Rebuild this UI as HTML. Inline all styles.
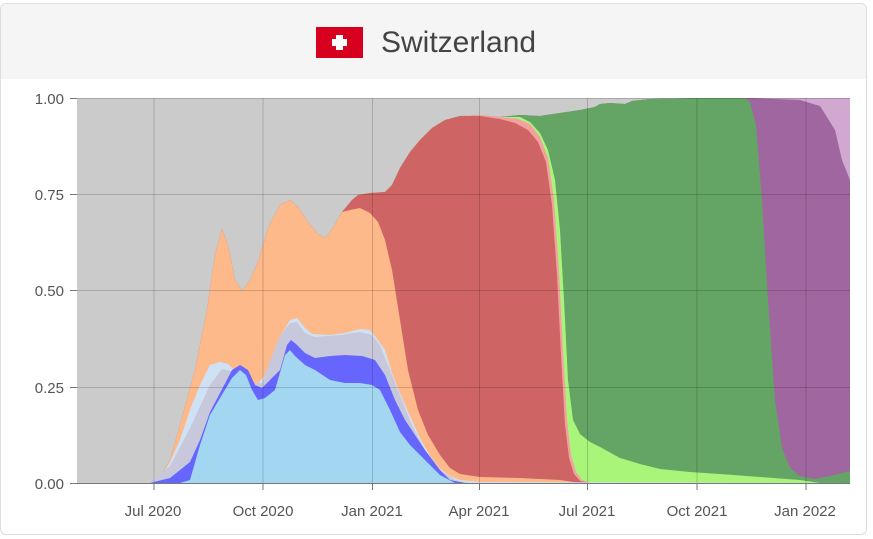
<!DOCTYPE html>
<html><head><meta charset="utf-8"><style>
body{margin:0;background:#fff;width:873px;height:539px;overflow:hidden;font-family:"Liberation Sans",sans-serif}
.card{position:absolute;left:0;top:3px;width:865px;height:530px;border:1px solid #ddd;border-radius:6px;background:#fff;overflow:hidden}
.hdr{position:absolute;left:0;top:0;width:100%;height:75px;background:#f5f5f5}
.title{position:absolute;left:381px;top:26px;font-size:30px;color:#444}
.flag{position:absolute;left:316px;top:27px;width:47px;height:31px;background:#d8001f}
</style></head><body>
<div class="card"><div class="hdr"></div></div>
<div class="flag"><div style="position:absolute;left:20px;top:8px;width:7px;height:15px;background:#fff"></div><div style="position:absolute;left:16px;top:12px;width:15px;height:7px;background:#fff"></div></div>
<div class="title">Switzerland</div>
<svg width="873" height="539" style="position:absolute;left:0;top:0">
<rect x="77" y="98" width="773" height="385" fill="#cbcbcb"/>
<polygon fill="#d0a8d0" points="77,483 150,483 160,478 170,460 180,425 195,370 207,310 215,255 222,229 228,245 235,280 242,291 250,280 258,262 268,228 280,205 290,200 298,207 310,225 318,234 325,238 333,228 342,212 352,200 358,195 370,193 385,192 392,185 400,168 410,152 420,140 432,128 445,120 460,116 480,115 500,117 520,115 540,116 560,113 580,110 595,107 600,104 610,103 625,104 632,101 650,99 700,98 850,98 850,483"/>
<polygon fill="#a066a0" points="77,483 150,483 160,478 170,460 180,425 195,370 207,310 215,255 222,229 228,245 235,280 242,291 250,280 258,262 268,228 280,205 290,200 298,207 310,225 318,234 325,238 333,228 342,212 352,200 358,195 370,193 385,192 392,185 400,168 410,152 420,140 432,128 445,120 460,116 480,115 500,117 520,115 540,116 560,113 580,110 595,107 600,104 610,103 625,104 632,101 650,99 700,98 750,98 800,100 820,106 835,130 842,160 850,180 850,483"/>
<polygon fill="#64a464" points="77,483 150,483 160,478 170,460 180,425 195,370 207,310 215,255 222,229 228,245 235,280 242,291 250,280 258,262 268,228 280,205 290,200 298,207 310,225 318,234 325,238 333,228 342,212 352,200 358,195 370,193 385,192 392,185 400,168 410,152 420,140 432,128 445,120 460,116 480,115 500,117 520,115 540,116 560,113 580,110 595,107 600,104 610,103 625,104 632,101 650,99 700,98 745,98 750,102 756,125 762,200 768,300 775,400 782,448 790,468 800,476 815,479 830,476 850,471 850,483"/>
<polygon fill="#a8f57a" points="77,483 150,483 160,478 170,460 180,425 195,370 207,310 215,255 222,229 228,245 235,280 242,291 250,280 258,262 268,228 280,205 290,200 298,207 310,225 318,234 325,238 333,228 342,212 352,200 358,195 370,193 385,192 392,185 400,168 410,152 420,140 432,128 445,120 460,116 480,115 500,117 520,117 530,122 540,133 548,150 555,180 560,230 564,300 568,380 573,420 580,434 590,442 600,447 620,458 640,464 660,469 690,472 720,474 760,477 800,480 820,483"/>
<polygon fill="#f4a0a0" points="77,483 150,483 160,478 170,460 180,425 195,370 207,310 215,255 222,229 228,245 235,280 242,291 250,280 258,262 268,228 280,205 290,200 298,207 310,225 318,234 325,238 333,228 342,212 352,200 358,195 370,193 385,192 392,185 400,168 410,152 420,140 432,128 445,120 460,116 480,115 500,117 518,119 530,124 540,137 548,158 554,200 559,270 563,350 567,420 571,455 576,472 582,480 592,483"/>
<polygon fill="#cf6464" points="77,483 150,483 160,478 170,460 180,425 195,370 207,310 215,255 222,229 228,245 235,280 242,291 250,280 258,262 268,228 280,205 290,200 298,207 310,225 318,234 325,238 333,228 342,212 352,200 358,195 370,193 385,192 392,185 400,168 410,152 420,140 432,128 445,120 460,116 480,116 500,119 515,123 528,130 538,142 546,162 552,205 557,275 561,355 565,425 569,458 574,474 580,481 590,483"/>
<polygon fill="#fdb98a" points="77,483 150,483 160,478 170,460 180,425 195,370 207,310 215,255 222,229 228,245 235,280 242,291 250,280 258,262 268,228 280,205 290,200 298,207 310,225 318,234 325,238 333,228 342,212 350,210 360,208 370,213 378,222 385,240 392,270 400,320 408,370 418,410 428,435 440,455 450,468 460,474 480,477 520,478 560,480 580,483"/>
<polygon fill="#cfe2f5" points="77,483 150,483 160,478 170,462 180,440 190,410 200,385 210,365 220,362 228,364 240,375 250,383 258,384 265,375 272,356 280,337 290,320 297,318 305,328 312,334 330,335 345,333 360,329 370,330 378,340 385,350 392,373 400,393 410,416 420,438 430,456 440,469 450,476 460,480 480,482 850,483"/>
<polygon fill="#c8c8dc" points="77,483 150,483 170,466 190,428 210,385 222,369 235,372 250,383 262,383 270,361 280,336 290,323 297,322 305,333 315,337 340,335 360,332 372,335 380,345 390,370 400,395 412,425 425,450 440,470 455,480 470,483"/>
<polygon fill="#6666ff" points="77,483 150,483 170,478 190,462 200,440 210,412 220,393 232,370 240,365 248,370 255,385 262,388 270,380 280,370 287,345 291,340 296,344 305,353 315,358 330,356 345,355 362,356 375,360 385,375 395,400 405,420 415,435 425,450 440,470 450,480 465,483"/>
<polygon fill="#a3d6f0" points="77,483 180,483 190,480 200,445 210,415 220,398 232,378 240,370 246,375 252,390 258,400 265,398 275,390 285,355 290,350 295,356 305,365 315,370 330,380 345,383 360,383 372,385 380,390 390,410 400,432 410,445 420,455 430,465 440,475 455,483"/>
<g stroke="rgba(0,0,0,0.17)" stroke-width="1">
<line x1="77" y1="194.5" x2="850" y2="194.5"/><line x1="77" y1="290.5" x2="850" y2="290.5"/><line x1="77" y1="387.5" x2="850" y2="387.5"/><line x1="77" y1="98.5" x2="850" y2="98.5"/>
<line x1="154" y1="98" x2="154" y2="483"/><line x1="263" y1="98" x2="263" y2="483"/><line x1="372.5" y1="98" x2="372.5" y2="483"/><line x1="479.5" y1="98" x2="479.5" y2="483"/><line x1="587.5" y1="98" x2="587.5" y2="483"/><line x1="697" y1="98" x2="697" y2="483"/><line x1="806" y1="98" x2="806" y2="483"/>
</g>
<g stroke="#777" stroke-width="1">
<line x1="77" y1="483.5" x2="850" y2="483.5"/>
<line x1="70" y1="98.5" x2="77" y2="98.5"/><line x1="70" y1="194.5" x2="77" y2="194.5"/><line x1="70" y1="290.5" x2="77" y2="290.5"/><line x1="70" y1="387.5" x2="77" y2="387.5"/><line x1="70" y1="483.5" x2="77" y2="483.5"/>
<line x1="154" y1="483" x2="154" y2="490"/><line x1="263" y1="483" x2="263" y2="490"/><line x1="372.5" y1="483" x2="372.5" y2="490"/><line x1="479.5" y1="483" x2="479.5" y2="490"/><line x1="587.5" y1="483" x2="587.5" y2="490"/><line x1="697" y1="483" x2="697" y2="490"/><line x1="806" y1="483" x2="806" y2="490"/>
</g>
<g font-family="Liberation Sans, sans-serif" font-size="15" fill="#555" text-anchor="end">
<text x="64" y="104">1.00</text><text x="64" y="200">0.75</text><text x="64" y="296">0.50</text><text x="64" y="393">0.25</text><text x="64" y="489">0.00</text>
</g>
<g font-family="Liberation Sans, sans-serif" font-size="15" fill="#555" text-anchor="middle">
<text x="153" y="516">Jul 2020</text><text x="263" y="516">Oct 2020</text><text x="372" y="516">Jan 2021</text><text x="479" y="516">Apr 2021</text><text x="587" y="516">Jul 2021</text><text x="697" y="516">Oct 2021</text><text x="805" y="516">Jan 2022</text>
</g>
</svg>
</body></html>
